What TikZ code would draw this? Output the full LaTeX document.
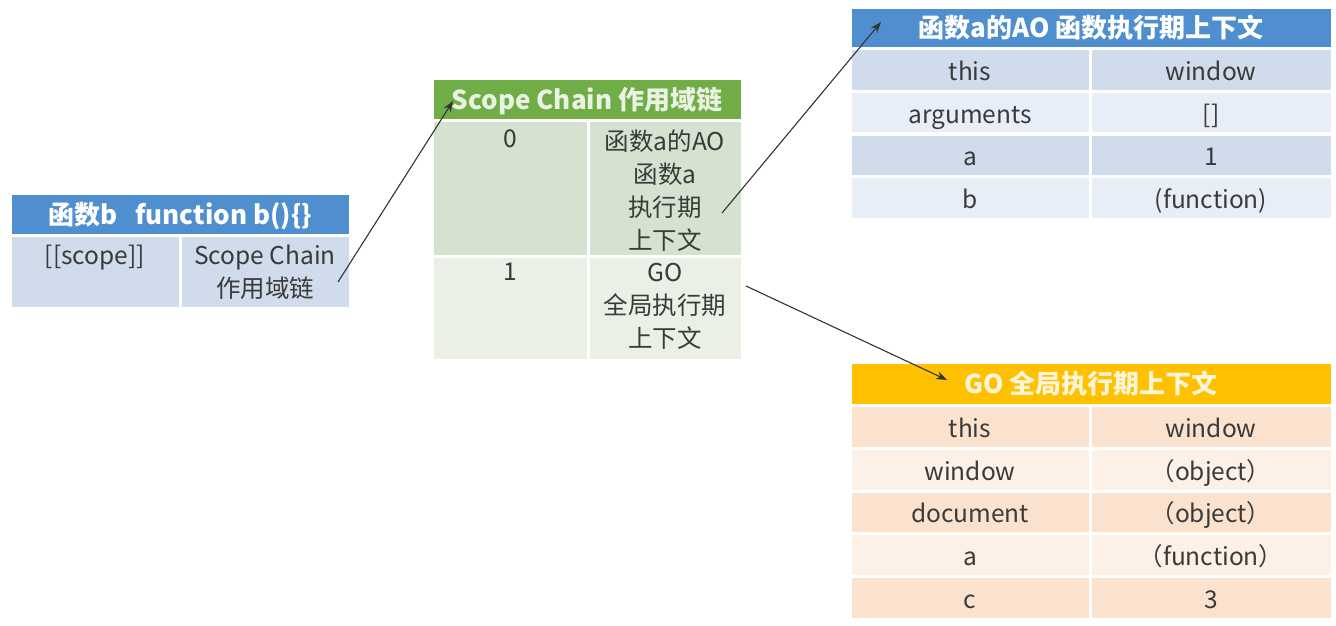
\documentclass[tikz,border=0pt]{standalone}
\usepackage{fontspec}
\setmainfont{Noto Sans CJK SC}
\usetikzlibrary{arrows.meta}
\definecolor{bluehead}{HTML}{4F8FD0}
\definecolor{bluedark}{HTML}{D0DBEC}
\definecolor{bluelight}{HTML}{E8EEF7}
\definecolor{greenhead}{HTML}{70AD47}
\definecolor{greendark}{HTML}{D6E2D0}
\definecolor{greenlight}{HTML}{EAF0E6}
\definecolor{orangehead}{HTML}{FFC000}
\definecolor{orangedark}{HTML}{FAE2CE}
\definecolor{orangelight}{HTML}{FDF0E6}
\definecolor{txt}{HTML}{3A3A3A}
\begin{document}
\begin{tikzpicture}[x=1pt,y=-1pt,
  cellbox/.style={draw=white,line width=3pt,inner sep=0pt,outer sep=0pt,
    font=\fontsize{24.5}{33}\selectfont,text=txt,text height=23pt,text depth=2pt},
  headbox/.style={cellbox,font=\bfseries\fontsize{26}{33}\selectfont,text=white,text height=23pt,text depth=3pt},
  celltext/.style={inner sep=0pt,font=\fontsize{24.5}{33}\selectfont,text=txt,align=center,anchor=north},
  link/.style={draw=black!80,line width=1.1pt,-{Stealth[length=11pt,width=8pt]}}]
\useasboundingbox (0,0) rectangle (1336,625);
\fill[white] (0,0) rectangle (1336,625);
% ---- function b table
\node[headbox,fill=bluehead,minimum width=340pt,minimum height=42pt] (bh) at (180,214) {函数b\hspace{0.7em}function b()\{\}};
\node[cellbox,fill=bluedark,minimum width=170pt,minimum height=73pt] (b1) at (95,271.5) {};
\node[cellbox,fill=bluedark,minimum width=170pt,minimum height=73pt] (b2) at (265,271.5) {};
\node[celltext] (b1t) at (95,245) {[[scope]]};
\node[celltext] (b2t) at (265,245) {Scope Chain\\作用域链};
% ---- scope chain table
\node[headbox,fill=greenhead,text=white!85!greenhead,minimum width=310pt,minimum height=42pt] (sh) at (587,99) {Scope Chain 作用域链};
\node[cellbox,fill=greendark,minimum width=156pt,minimum height=136pt] (s0a) at (510,188) {};
\node[cellbox,fill=greendark,minimum width=154pt,minimum height=136pt] (s0b) at (665,188) {};
\node[cellbox,fill=greenlight,minimum width=156pt,minimum height=104pt] (s1a) at (510,308) {};
\node[cellbox,fill=greenlight,minimum width=154pt,minimum height=104pt] (s1b) at (665,308) {};
\node[celltext] (s0at) at (510,130) {0};
\node[celltext] (s0bt) at (665,130) {函数a的AO\\函数a\\执行期\\上下文};
\node[celltext] (s1at) at (510,263) {1};
\node[celltext] (s1bt) at (665,263) {GO\\全局执行期\\上下文};
% ---- AO table
\node[headbox,fill=bluehead,minimum width=482pt,minimum height=41pt] (ah) at (1091,27.5) {函数a的AO 函数执行期上下文};
\node[cellbox,fill=bluedark,minimum width=240pt,minimum height=43pt] (a1k) at (970,69.5) {this};
\node[cellbox,fill=bluedark,minimum width=242pt,minimum height=43pt] (a1v) at (1211,69.5) {window};
\node[cellbox,fill=bluelight,minimum width=240pt,minimum height=42pt] (a2k) at (970,112.5) {arguments};
\node[cellbox,fill=bluelight,minimum width=242pt,minimum height=42pt] (a2v) at (1211,112.5) {[]};
\node[cellbox,fill=bluedark,minimum width=240pt,minimum height=42pt] (a3k) at (970,155) {a};
\node[cellbox,fill=bluedark,minimum width=242pt,minimum height=42pt] (a3v) at (1211,155) {1};
\node[cellbox,fill=bluelight,minimum width=240pt,minimum height=43pt] (a4k) at (970,197.5) {b};
\node[cellbox,fill=bluelight,minimum width=242pt,minimum height=43pt] (a4v) at (1211,197.5) {(function)};
% ---- GO table
\node[headbox,fill=orangehead,text=white!85!orangehead,minimum width=482pt,minimum height=43pt] (gh) at (1091,383.5) {GO 全局执行期上下文};
\node[cellbox,fill=orangedark,minimum width=240pt,minimum height=43pt] (g1k) at (970,426.5) {this};
\node[cellbox,fill=orangedark,minimum width=242pt,minimum height=43pt] (g1v) at (1211,426.5) {window};
\node[cellbox,fill=orangelight,minimum width=240pt,minimum height=43pt] (g2k) at (970,469.5) {window};
\node[cellbox,fill=orangelight,minimum width=242pt,minimum height=43pt] (g2v) at (1211,469.5) {（object）};
\node[cellbox,fill=orangedark,minimum width=240pt,minimum height=42pt] (g3k) at (970,512) {document};
\node[cellbox,fill=orangedark,minimum width=242pt,minimum height=42pt] (g3v) at (1211,512) {（object）};
\node[cellbox,fill=orangelight,minimum width=240pt,minimum height=43pt] (g4k) at (970,554.5) {a};
\node[cellbox,fill=orangelight,minimum width=242pt,minimum height=43pt] (g4v) at (1211,554.5) {（function）};
\node[cellbox,fill=orangedark,minimum width=240pt,minimum height=43pt] (g5k) at (970,597.5) {c};
\node[cellbox,fill=orangedark,minimum width=242pt,minimum height=43pt] (g5v) at (1211,597.5) {3};
% ---- connectors
\coordinate (c1s) at (338,282);
\coordinate (c1e) at (453,101);
\coordinate (c2s) at (722,213);
\coordinate (c2e) at (881,22);
\coordinate (c3s) at (746,286);
\coordinate (c3e) at (947,380);
\draw[link] (c1s) -- (c1e);
\draw[link] (c2s) -- (c2e);
\draw[link] (c3s) -- (c3e);
\end{tikzpicture}
\end{document}
